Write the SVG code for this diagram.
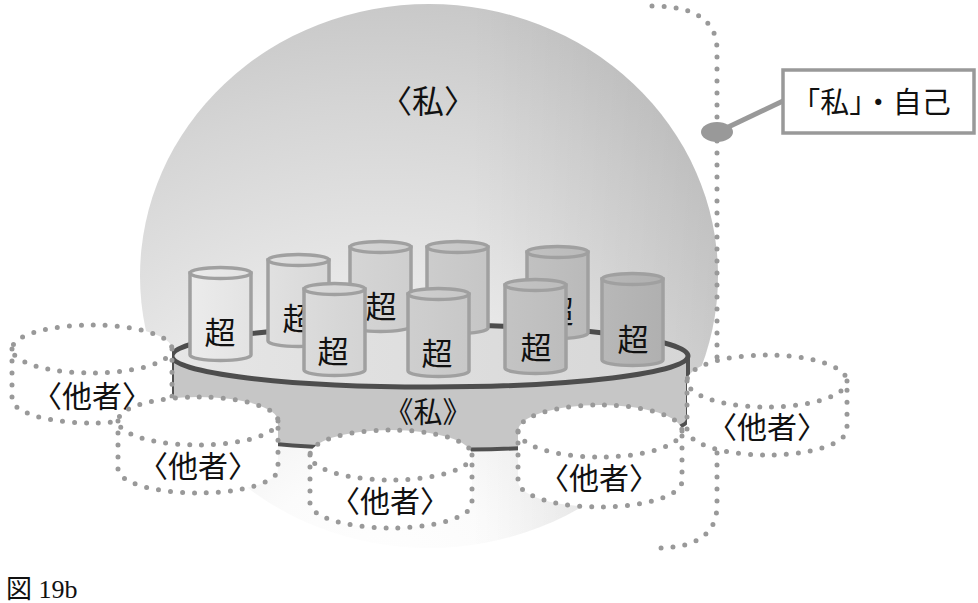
<svg xmlns="http://www.w3.org/2000/svg" width="978" height="603" viewBox="0 0 978 603">
<defs>
<radialGradient id="sph" gradientUnits="userSpaceOnUse" cx="380" cy="600" r="660">
<stop offset="0" stop-color="#ffffff"/>
<stop offset="0.2" stop-color="#fbfbfb"/>
<stop offset="0.42" stop-color="#ececec"/>
<stop offset="0.75" stop-color="#d5d5d5"/>
<stop offset="0.9" stop-color="#c9c9c9"/>
<stop offset="1" stop-color="#c1c1c1"/>
</radialGradient>
<linearGradient id="sphR" gradientUnits="userSpaceOnUse" x1="470" y1="0" x2="720" y2="0">
<stop offset="0" stop-color="#000" stop-opacity="0"/>
<stop offset="1" stop-color="#000" stop-opacity="0.09"/>
</linearGradient>
<linearGradient id="cyl" gradientUnits="userSpaceOnUse" x1="180" y1="0" x2="670" y2="0">
<stop offset="0" stop-color="#ededed"/>
<stop offset="0.33" stop-color="#d6d6d6"/>
<stop offset="0.73" stop-color="#c0c0c0"/>
<stop offset="1" stop-color="#afafaf"/>
</linearGradient>
<linearGradient id="disktop" gradientUnits="userSpaceOnUse" x1="172" y1="0" x2="688" y2="0">
<stop offset="0" stop-color="#e6e6e6"/>
<stop offset="1" stop-color="#d6d6d6"/>
</linearGradient>
</defs>
<style>
.t{font-family:"Noto Sans CJK JP","Noto Sans",sans-serif;fill:#111;text-anchor:middle}
.cy path,.cy ellipse{fill:url(#cyl);stroke:#a0a0a0;stroke-width:3.5}
.ot path.f{fill:#fff;stroke:none}
.ot .s{fill:none;stroke:#999;stroke-width:5;stroke-dasharray:0 12;stroke-linecap:round}
.dot{fill:none;stroke:#999;stroke-width:5;stroke-dasharray:0 12;stroke-linecap:round}
</style>
<rect width="978" height="603" fill="#fff"/>
<g id="sphere">
<ellipse cx="429" cy="276" rx="289" ry="272" fill="url(#sph)"/>
<ellipse cx="429" cy="276" rx="289" ry="272" fill="url(#sphR)"/>
<text class="t" x="428" y="113" font-size="32">〈私〉</text>
</g>
<g id="connectors">
<path class="dot" d="M652 6 Q717 6 717 50 L717 505 Q717 548 657 548"/>
<line x1="722" y1="130" x2="783" y2="101" stroke="#999" stroke-width="5"/>
<ellipse cx="717" cy="132" rx="16" ry="10" fill="#999"/>
</g>
<g id="disk">
<path d="M172 356 L172 419 A258 31 0 0 0 688 419 L688 356 Z" fill="#c6c6c6" stroke="#505050" stroke-width="4"/>
<ellipse cx="430" cy="356" rx="258" ry="31" fill="url(#disktop)" stroke="#4d4d4d" stroke-width="5"/>
<text class="t" x="428" y="423" font-size="29">《私》</text>
</g>
<g id="cyl2" class="cy">
<path d="M268 260 L268 341 A30.5 5.5 0 0 0 329 341 L329 260 Z"/>
<ellipse cx="298.5" cy="260" rx="30.5" ry="5.5"/>
<text class="t" x="298" y="330" font-size="31">超</text>
</g>
<g id="cyl4" class="cy">
<path d="M350 247 L350 326 A30.5 5.5 0 0 0 411 326 L411 247 Z"/>
<ellipse cx="380.5" cy="247" rx="30.5" ry="5.5"/>
<text class="t" x="381" y="318" font-size="31">超</text>
</g>
<g id="cyl5" class="cy">
<path d="M427 247 L427 328 A30.5 5.5 0 0 0 488 328 L488 247 Z"/>
<ellipse cx="457.5" cy="247" rx="30.5" ry="5.5"/>
</g>
<g id="cyl7" class="cy">
<path d="M527 252 L527 333 A30.5 5.5 0 0 0 588 333 L588 252 Z"/>
<ellipse cx="557.5" cy="252" rx="30.5" ry="5.5"/>
<text class="t" x="558" y="323" font-size="31">超</text>
</g>
<g id="cyl1" class="cy">
<path d="M190 273 L190 355 A30.5 5.5 0 0 0 251 355 L251 273 Z"/>
<ellipse cx="220.5" cy="273" rx="30.5" ry="5.5"/>
<text class="t" x="220" y="344" font-size="31">超</text>
</g>
<g id="cyl3" class="cy">
<path d="M304 289 L304 370 A30.5 5.5 0 0 0 365 370 L365 289 Z"/>
<ellipse cx="334.5" cy="289" rx="30.5" ry="5.5"/>
<text class="t" x="333" y="363" font-size="31">超</text>
</g>
<g id="cyl6" class="cy">
<path d="M408 294 L408 371 A30.5 5.5 0 0 0 469 371 L469 294 Z"/>
<ellipse cx="438.5" cy="294" rx="30.5" ry="5.5"/>
<text class="t" x="437" y="365" font-size="31">超</text>
</g>
<g id="cyl8" class="cy">
<path d="M505 285 L505 368 A30.5 5.5 0 0 0 566 368 L566 285 Z"/>
<ellipse cx="535.5" cy="285" rx="30.5" ry="5.5"/>
<text class="t" x="536" y="359" font-size="31">超</text>
</g>
<g id="cyl9" class="cy">
<path d="M602 279 L602 360 A30.5 5.5 0 0 0 663 360 L663 279 Z"/>
<ellipse cx="632.5" cy="279" rx="30.5" ry="5.5"/>
<text class="t" x="633" y="351" font-size="31">超</text>
</g>
<g id="otherA" class="ot">
<path class="f" d="M12 349 L12 399 A80 24 0 0 0 172 399 L172 349 A80 24 0 0 0 12 349 Z"/>
<ellipse class="s" cx="92" cy="349" rx="80" ry="24"/>
<path class="s" d="M12 349 L12 399 A80 24 0 0 0 172 399 L172 349"/>
<text class="t" x="92" y="407" font-size="30">〈他者〉</text>
</g>
<g id="otherB" class="ot">
<path class="f" d="M118 421 L118 469 A80 24 0 0 0 278 469 L278 421 A80 24 0 0 0 118 421 Z"/>
<ellipse class="s" cx="198" cy="421" rx="80" ry="24"/>
<path class="s" d="M118 421 L118 469 A80 24 0 0 0 278 469 L278 421"/>
<text class="t" x="198" y="477" font-size="30">〈他者〉</text>
</g>
<g id="otherC" class="ot">
<path class="f" d="M310 455 L310 503 A81 25 0 0 0 472 503 L472 455 A81 25 0 0 0 310 455 Z"/>
<ellipse class="s" cx="391" cy="455" rx="81" ry="25"/>
<path class="s" d="M310 455 L310 503 A81 25 0 0 0 472 503 L472 455"/>
<text class="t" x="390" y="512" font-size="30">〈他者〉</text>
</g>
<g id="otherD" class="ot">
<path class="f" d="M518 431 L518 481 A82 26 0 0 0 682 481 L682 431 A82 26 0 0 0 518 431 Z"/>
<ellipse class="s" cx="600" cy="431" rx="82" ry="26"/>
<path class="s" d="M518 431 L518 481 A82 26 0 0 0 682 481 L682 431"/>
<text class="t" x="599" y="489" font-size="30">〈他者〉</text>
</g>
<g id="otherE" class="ot">
<path class="f" d="M687 381 L687 429 A80 26 0 0 0 847 429 L847 381 A80 26 0 0 0 687 381 Z"/>
<ellipse class="s" cx="767" cy="381" rx="80" ry="26"/>
<path class="s" d="M687 381 L687 429 A80 26 0 0 0 847 429 L847 381"/>
<text class="t" x="767" y="438" font-size="30">〈他者〉</text>
</g>
<g id="selfLabel">
<rect x="783" y="70" width="191" height="63" fill="#fff" stroke="#999" stroke-width="3.5"/>
<text class="t" x="871" y="113" font-size="29">「私」・自己</text>
</g>
<text x="6" y="598" font-size="26" font-family="'Liberation Serif','Noto Sans CJK JP',serif" fill="#111">図 19b</text>
</svg>
